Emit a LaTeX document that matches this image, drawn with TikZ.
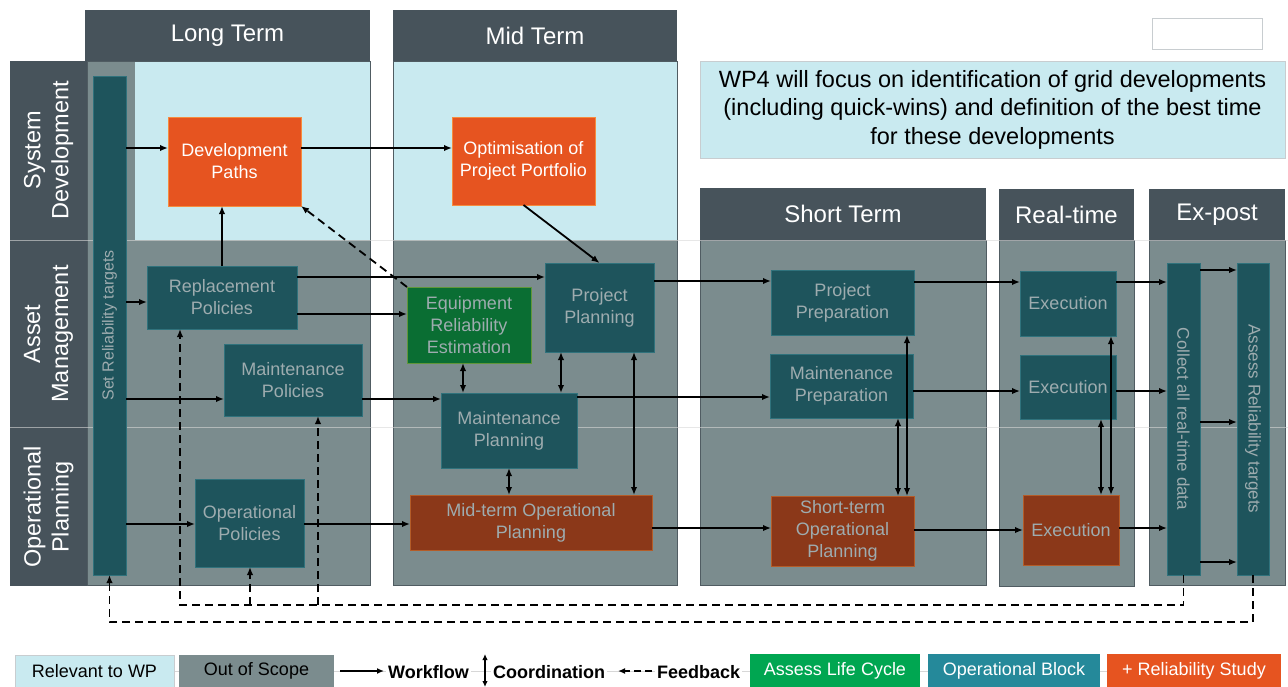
\documentclass[tikz,border=0pt]{standalone}
\usepackage{fontspec}
\setmainfont{Liberation Sans}
\usetikzlibrary{arrows.meta}
\definecolor{cHdr}{RGB}{71,83,91}
\definecolor{cOos}{RGB}{123,140,142}
\definecolor{cRel}{RGB}{201,234,240}
\definecolor{cTeal}{RGB}{30,84,92}
\definecolor{cTealB}{RGB}{48,114,124}
\definecolor{cLtxt}{RGB}{158,172,175}
\definecolor{cOrng}{RGB}{230,84,32}
\definecolor{cOrngB}{RGB}{246,140,62}
\definecolor{cGrn}{RGB}{10,110,51}
\definecolor{cGrnB}{RGB}{96,150,58}
\definecolor{cBrn}{RGB}{139,56,25}
\definecolor{cBrnB}{RGB}{180,92,40}
\definecolor{cLGrn}{RGB}{0,166,81}
\definecolor{cLTeal}{RGB}{37,137,154}
\definecolor{cBodyB}{RGB}{80,92,98}
\definecolor{cSep}{RGB}{215,215,215}
\definecolor{cFrame}{RGB}{200,205,208}
\begin{document}
\begin{tikzpicture}[x=1pt,y=-1pt,
  sz/.style 2 args={minimum width=#1,minimum height=#2},
  box/.style={inner sep=0pt,outer sep=0pt,line width=1pt,align=center,font=\fontsize{18}{22}\selectfont},
  tbox/.style={box,fill=cTeal,draw=cTealB,text=cLtxt},
  obox/.style={box,fill=cOrng,draw=cOrngB,text=white},
  gbox/.style={box,fill=cGrn,draw=cGrnB,text=cLtxt},
  bbox/.style={box,fill=cBrn,draw=cBrnB,text=cLtxt},
  hbox/.style={inner sep=0pt,outer sep=0pt,fill=cHdr,text=white,font=\fontsize{24}{28}\selectfont},
  rowlab/.style={rotate=90,align=center,text=white,font=\fontsize{23.5}{28}\selectfont},
  barlab/.style={text=cLtxt,font=\fontsize{17}{20}\selectfont},
  body/.style={draw=cBodyB,line width=0.8pt},
  flow/.style={line width=1.8pt,-{Latex[length=8pt,width=6.5pt]}},
  coord/.style={line width=1.8pt,{Latex[length=8pt,width=6.5pt]}-{Latex[length=8pt,width=6.5pt]}},
  fb/.style={line width=1.8pt,dash pattern=on 8pt off 5pt,-{Latex[length=8pt,width=6.5pt]}},
  lgbox/.style={inner sep=0pt,outer sep=0pt,font=\fontsize{18}{22}\selectfont},
  lgtxt/.style={inner xsep=2pt,inner ysep=0pt,fill=white,font=\bfseries\fontsize{18}{22}\selectfont,anchor=base west},
]
\fill[white] (0,0) rectangle (1288,686);
\useasboundingbox (0,0) rectangle (1288,686);
% row label column
\fill[cHdr] (10,61) rectangle (87,586);
% column bodies
\fill[cOos] (87,61) rectangle (370,585);
\fill[cRel] (135,61) rectangle (370,240);
\draw[body] (87,61) rectangle (370,585);
\fill[cRel] (393,61) rectangle (677,240);
\fill[cOos] (393,240) rectangle (677,585);
\draw[body] (393,61) rectangle (677,585);
\fill[cOos] (700,240) rectangle (986,585);
\draw[body] (700,240) rectangle (986,585);
\fill[cOos] (999,240) rectangle (1134,586);
\draw[body] (999,240) rectangle (1134,586);
\fill[cOos] (1149,240) rectangle (1285,585);
\draw[body] (1149,240) rectangle (1285,585);
% row separators
\draw[cSep,opacity=0.6,line width=0.8pt] (10,240) -- (1288,240);
\draw[cSep,opacity=0.6,line width=0.8pt] (10,427) -- (1288,427);
% headers
\node[hbox,sz={285}{51}] (hLT) at (227.5,35.5) {Long Term};
\node[hbox,sz={284}{51}] (hMT) at (535,35.5) {Mid Term};
\node[hbox,sz={286}{52}] (hST) at (843,214) {Short Term};
\node[hbox,sz={135}{51}] (hRT) at (1066.5,214.5) {Real-time};
\node[hbox,sz={136}{51}] (hEP) at (1217,214.5) {Ex-post};
% row labels
\node[rowlab] (rSD) at (48.5,150) {System\\Development};
\node[rowlab] (rAM) at (48.5,334) {Asset\\Management};
\node[rowlab] (rOP) at (48.5,507) {Operational\\Planning};
% top right blank box and WP4 note
\node[draw=cFrame,fill=white,inner sep=0pt,sz={110}{31}] (blank) at (1207,33.5) {};
\node[fill=cRel,draw=cFrame,inner sep=0pt,align=center,sz={585}{97},font=\fontsize{23.5}{28.5}\selectfont] (wp) at (992.5,109.5)
  {WP4 will focus on identification of grid developments\\(including quick-wins) and definition of the best time\\for these developments};
% bars
\node[tbox,sz={33}{499}] (set) at (109.5,325.5) {};
\node[barlab,rotate=90,font=\fontsize{16}{19}\selectfont] (setT) at (set.center) {Set Reliability targets};
\node[tbox,sz={33}{312}] (col) at (1183.5,419) {};
\node[barlab,rotate=-90] (colT) at (col.center) {Collect all real-time data};
\node[tbox,sz={32}{312}] (ass) at (1253,419) {};
\node[barlab,rotate=-90] (assT) at (ass.center) {Assess Reliability targets};
% boxes
\node[obox,sz={133}{89}] (dev) at (234.5,161.5) {Development\\Paths};
\node[obox,sz={143}{88}] (opt) at (523.5,161) {Optimisation of\\Project Portfolio};
\node[tbox,sz={150}{63}] (rp) at (222,297.5) {Replacement\\Policies};
\node[tbox,sz={138}{72}] (mp) at (293,380) {Maintenance\\Policies};
\node[tbox,sz={109}{88}] (op) at (249.5,523) {Operational\\Policies};
\node[gbox,sz={124}{76}] (ere) at (469,325) {Equipment\\Reliability\\Estimation};
\node[tbox,sz={109}{89}] (pp) at (599.5,307.5) {Project\\Planning};
\node[tbox,sz={136}{75}] (mpl) at (509,430.5) {Maintenance\\Planning};
\node[bbox,sz={242}{55}] (mop) at (531,522.5) {Mid-term Operational\\Planning};
\node[tbox,sz={143}{65}] (ppr) at (842.5,302.5) {Project\\Preparation};
\node[tbox,sz={143}{64}] (mpr) at (841.5,386) {Maintenance\\Preparation};
\node[bbox,sz={143}{70}] (sop) at (842.5,531) {Short-term\\Operational\\Planning};
\node[tbox,sz={96}{65}] (ex1) at (1068,303.5) {Execution};
\node[tbox,sz={96}{64}] (ex2) at (1068,387) {Execution};
\node[bbox,sz={96}{70}] (ex3) at (1071,530) {Execution};
% workflow arrows
\draw[flow] (set.east |- 0,148) -- (dev.west |- 0,148);
\draw[flow] (dev.east |- 0,148) -- (opt.west |- 0,148);
\draw[flow] (rp.north) -- (rp.north |- dev.south);
\draw[flow] (set.east |- 0,302) -- (rp.west |- 0,302);
\draw[flow] (rp.east |- 0,277) -- (pp.west |- 0,277);
\draw[flow] (rp.east |- 0,314) -- (ere.west |- 0,314);
\draw[flow] (set.east |- 0,399) -- (mp.west |- 0,399);
\draw[flow] (mp.east |- 0,399) -- (mpl.west |- 0,399);
\draw[flow] (set.east |- 0,524) -- (op.west |- 0,524);
\draw[flow] (op.east |- 0,524) -- (mop.west |- 0,524);
\draw[flow] (opt.south) -- (pp.north);
\draw[flow] (pp.east |- 0,281) -- (ppr.west |- 0,281);
\draw[flow] (mpl.east |- 0,397) -- (mpr.west |- 0,397);
\draw[flow] (mop.east |- 0,528) -- (sop.west |- 0,528);
\draw[flow] (ppr.east |- 0,282) -- (ex1.west |- 0,282);
\draw[flow] (mpr.east |- 0,391) -- (ex2.west |- 0,391);
\draw[flow] (sop.east |- 0,530) -- (ex3.west |- 0,530);
\draw[flow] (ex1.east |- 0,282) -- (col.west |- 0,282);
\draw[flow] (ex2.east |- 0,391) -- (col.west |- 0,391);
\draw[flow] (ex3.east |- 0,528) -- (col.west |- 0,528);
\draw[flow] (col.east |- 0,270) -- (ass.west |- 0,270);
\draw[flow] (col.east |- 0,422) -- (ass.west |- 0,422);
\draw[flow] (col.east |- 0,562) -- (ass.west |- 0,562);
% coordination arrows
\draw[coord] (ere.south -| 463,0) -- (mpl.north -| 463,0);
\draw[coord] (pp.south -| 561,0) -- (mpl.north -| 561,0);
\draw[coord] (pp.south -| 634,0) -- (mop.north -| 634,0);
\draw[coord] (mpl.south) -- (mpl.south |- mop.north);
\draw[coord] (ppr.south -| 907,0) -- (sop.north -| 907,0);
\draw[coord] (mpr.south -| 898,0) -- (sop.north -| 898,0);
\draw[coord] (ex1.south -| 1111,0) -- (ex3.north -| 1111,0);
\draw[coord] (ex2.south -| 1101,0) -- (ex3.north -| 1101,0);
% feedback
\draw[fb] (ere.north west) -- (dev.south east);
\coordinate (fbA) at (180,605);
\coordinate (fbB) at (250,605);
\coordinate (fbC) at (318,605);
\coordinate (fbD) at (109.5,622);
\draw[fb] (col.south) |- (fbA) -- (fbA |- rp.south);
\draw[fb] (fbB) -- (fbB |- op.south);
\draw[fb] (fbC) -- (fbC |- mp.south);
\draw[fb] (ass.south) |- (fbD) -- (set.south);
% legend
\draw[cSep,line width=0.8pt] (174,671) -- (1107,671);
\node[lgbox,fill=cRel,draw=cFrame,sz={159}{32}] (lgRel) at (94.5,671) {Relevant to WP};
\node[lgbox,fill=cOos,sz={155}{32}] (lgOos) at (256.5,671) {Out of Scope};
\coordinate (lwA) at (340,671);
\coordinate (lwB) at (384,671);
\draw[line width=1.8pt,-{Latex[length=7pt,width=6pt]}] (lwA) -- (lwB);
\node[lgtxt] (lgW) at (386,678) {Workflow};
\coordinate (lcA) at (485,654);
\coordinate (lcB) at (485,687);
\draw[line width=1.4pt,{Latex[length=6pt,width=5.5pt]}-{Latex[length=6pt,width=5.5pt]}] (lcA) -- (lcB);
\node[lgtxt] (lgC) at (491,678) {Coordination};
\coordinate (lfA) at (652,671);
\coordinate (lfB) at (618,671);
\draw[line width=1.8pt,dash pattern=on 7pt off 4pt,-{Latex[length=7pt,width=6pt]}] (lfA) -- (lfB);
\node[lgtxt] (lgF) at (655,678) {Feedback};
\node[lgbox,fill=cLGrn,text=white,sz={170}{33}] (lgA) at (835,670.5) {Assess Life Cycle};
\node[lgbox,fill=cLTeal,text=white,sz={172}{33}] (lgO) at (1014,670.5) {Operational Block};
\node[lgbox,fill=cOrng,text=white,sz={174}{33}] (lgR) at (1194,670.5) {+ Reliability Study};
\end{tikzpicture}
\end{document}
